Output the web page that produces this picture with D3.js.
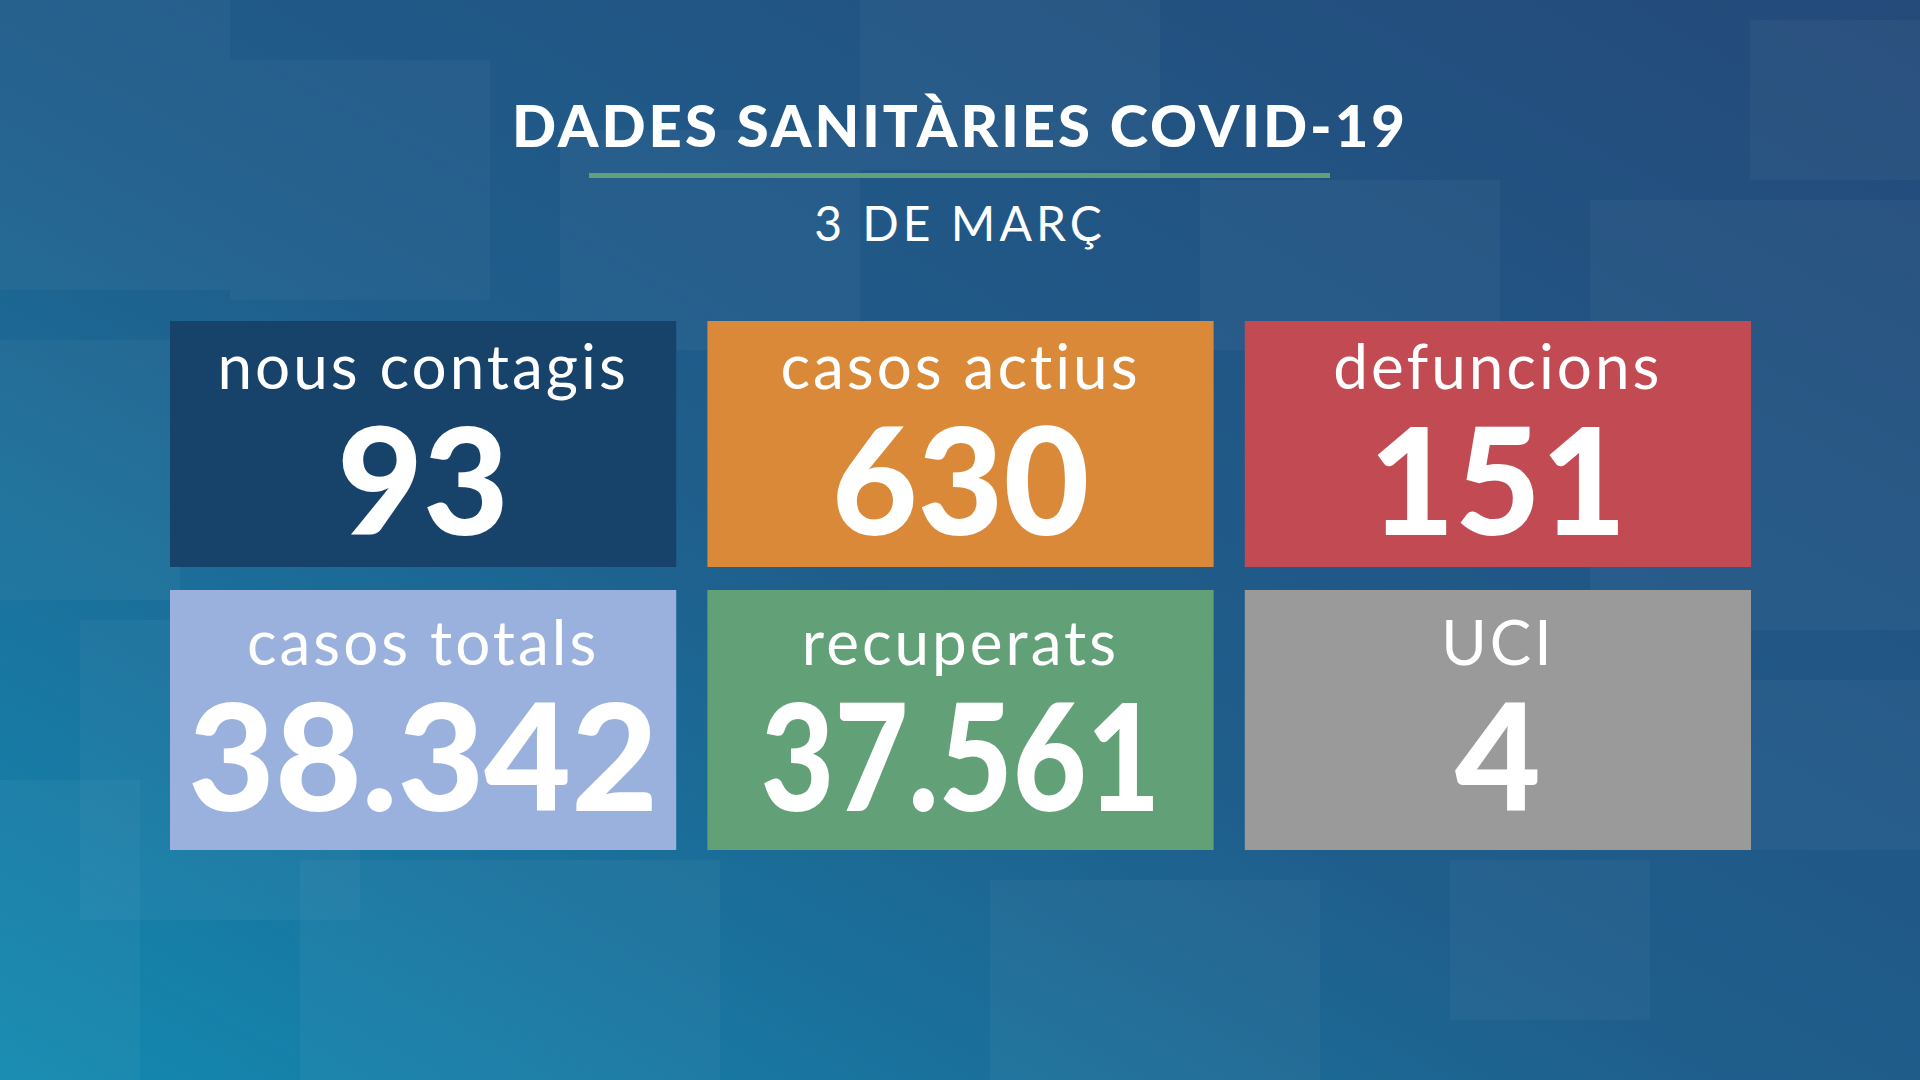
<!DOCTYPE html>
<html><head><meta charset="utf-8">
<script src="https://cdn.jsdelivr.net/npm/d3@7"></script>
<style>html,body{margin:0;padding:0;overflow:hidden;background:#1f5a88}</style>
</head><body>
<script>
const labels = ["nous contagis","casos actius","defuncions","casos totals","recuperats","UCI"];
const values = ["93","630","151","38.342","37.561","4"];
const colors = ["#17436b","#d98937","#c24a52","#9ab0dd","#62a077","#9a9a9a"];
const title = "DADES SANITÀRIES COVID-19";
const subtitle = "3 DE MARÇ";
// faint background squares [x, y, w, h]
const squares = [[0,0,230,290],[230,60,260,240],[0,340,180,260],[80,620,280,300],[0,780,140,300],
  [560,130,300,220],[860,0,300,170],[1590,200,330,430],[1660,680,260,170],[1450,860,200,160],
  [990,880,330,200],[300,860,420,220],[1750,20,170,160],[1200,180,300,170]];

const W = 1920, H = 1080;
const svg = d3.select("body").append("svg").attr("width", W).attr("height", H);
const defs = svg.append("defs");
const grad = defs.append("linearGradient").attr("id","bg").attr("x1","0").attr("y1","1").attr("x2","1").attr("y2","0");
grad.append("stop").attr("offset","0%").attr("stop-color","#1389b0");
grad.append("stop").attr("offset","45%").attr("stop-color","#1f5e8c");
grad.append("stop").attr("offset","100%").attr("stop-color","#244a7a");
svg.append("rect").attr("width",W).attr("height",H).attr("fill","url(#bg)");
svg.append("g").selectAll("rect").data(squares).join("rect")
  .attr("x",d=>d[0]).attr("y",d=>d[1]).attr("width",d=>d[2]).attr("height",d=>d[3])
  .attr("fill","#fff").attr("opacity",0.035);

svg.append("text").attr("x",960).attr("y",147).attr("text-anchor","middle")
  .attr("font-family","Lato").attr("font-weight",900).attr("font-size",58).attr("letter-spacing",3)
  .attr("fill","#fff").text(title);
svg.append("rect").attr("x",589).attr("y",173).attr("width",741).attr("height",5).attr("fill","#62a077");
svg.append("text").attr("x",960).attr("y",241).attr("text-anchor","middle")
  .attr("font-family","Lato").attr("font-weight",400).attr("font-size",48).attr("letter-spacing",4)
  .attr("fill","#fff").text(subtitle);

const x = d3.scaleBand().domain([0,1,2]).range([170,1751]).paddingInner(0.058);
const rowTop = [321, 590], rowH = [246, 260];
const labelY = [68, 75], valueY = [214, 221];
const cells = labels.map((l,i)=>({label:l, value:values[i], color:colors[i], col:i%3, row:Math.floor(i/3)}));

const cell = svg.append("g").selectAll("g").data(cells).join("g")
  .attr("transform", d=>`translate(${x(d.col)},${rowTop[d.row]})`);
cell.append("rect").attr("width",x.bandwidth()).attr("height",d=>rowH[d.row]).attr("fill",d=>d.color);
cell.append("text").attr("x",x.bandwidth()/2).attr("y",d=>labelY[d.row]).attr("text-anchor","middle")
  .attr("font-family","Lato").attr("font-size",62).attr("letter-spacing",3).attr("fill","#fff").text(d=>d.label);
cell.append("text").attr("x",x.bandwidth()/2).attr("y",d=>valueY[d.row]).attr("text-anchor","middle")
  .attr("font-family","Lato").attr("font-weight",900).attr("font-size",148).attr("fill","#fff")
  .attr("textLength",d=>d.value.length>4?(d.row&&d.col===0?470:400):null).attr("lengthAdjust","spacingAndGlyphs")
  .text(d=>d.value);
</script>
</body></html>
